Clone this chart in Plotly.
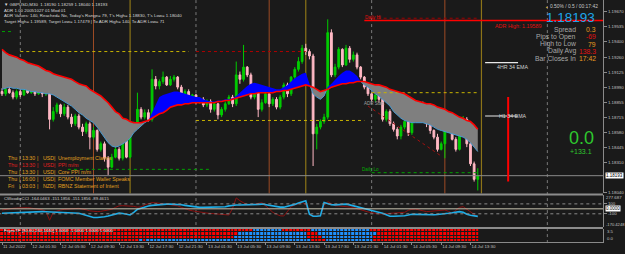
import plotly.graph_objects as go

W, H = 625, 254
BG = '#1a1a1a'
FONT = 'Liberation Sans, Arial, sans-serif'
GREEN = '#00cc00'
PINK = '#ffb8c4'
GOLD = '#e0a020'
RED = '#e02020'

# ---------------- data ----------------
open_ = [1.1895, 1.1893, 1.1897, 1.1894, 1.1890, 1.1895, 1.1892, 1.1897, 1.1894, 1.1898,
         1.1893, 1.1896, 1.1893, 1.1895, 1.1870, 1.1877, 1.1883, 1.1875, 1.1881, 1.1872,
         1.1866, 1.1873, 1.1863, 1.1859, 1.1866, 1.1854, 1.1860, 1.1843, 1.1848, 1.1835,
         1.1827, 1.1836, 1.1843, 1.1835, 1.1857, 1.1836, 1.1861, 1.1866, 1.1879, 1.1872,
         1.1876, 1.1870, 1.1906, 1.1900, 1.1904, 1.1908, 1.1901, 1.1906, 1.1908, 1.1899,
         1.1891, 1.1895, 1.1888, 1.1892, 1.1886, 1.1888, 1.1883, 1.1886, 1.1879, 1.1884,
         1.1874, 1.1879, 1.1884, 1.1890, 1.1884, 1.1910, 1.1906, 1.1917, 1.1910, 1.1890,
         1.1897, 1.1879, 1.1885, 1.1893, 1.1884, 1.1888, 1.1881, 1.1890, 1.1901, 1.1893,
         1.1908, 1.1915, 1.1922, 1.1934, 1.1931, 1.1927, 1.1857, 1.1863, 1.1868, 1.1872,
         1.1948, 1.1910, 1.1917, 1.1933, 1.1919, 1.1934, 1.1924, 1.1928, 1.1917, 1.1908,
         1.1899, 1.1893, 1.1888, 1.1892, 1.1888, 1.1870, 1.1877, 1.1866, 1.1861, 1.1855,
         1.1863, 1.1868, 1.1858, 1.1870, 1.1881, 1.1884, 1.1872, 1.1866, 1.1860, 1.1854,
         1.1843, 1.1848, 1.1861, 1.1872, 1.1852, 1.1843, 1.1857, 1.1870, 1.1848, 1.1830,
         1.1816]
high_ = [1.1898, 1.1899, 1.1899, 1.1896, 1.1897, 1.1897, 1.1900, 1.1899, 1.1901, 1.1900,
         1.1899, 1.1898, 1.1898, 1.1897, 1.1881, 1.1885, 1.1884, 1.1884, 1.1883, 1.1875,
         1.1875, 1.1875, 1.1866, 1.1868, 1.1868, 1.1863, 1.1861, 1.1850, 1.1850, 1.1837,
         1.1839, 1.1846, 1.1845, 1.1859, 1.1861, 1.1863, 1.1868, 1.1894, 1.1881, 1.1879,
         1.1879, 1.1915, 1.1909, 1.1906, 1.1913, 1.1909, 1.1909, 1.1910, 1.1909, 1.1901,
         1.1897, 1.1897, 1.1893, 1.1893, 1.1890, 1.1890, 1.1888, 1.1888, 1.1885, 1.1885,
         1.1881, 1.1886, 1.1892, 1.1892, 1.1922, 1.1913, 1.1937, 1.1918, 1.1912, 1.1899,
         1.1899, 1.1888, 1.1894, 1.1894, 1.1890, 1.1890, 1.1892, 1.1903, 1.1903, 1.1909,
         1.1917, 1.1926, 1.1937, 1.1938, 1.1933, 1.1929, 1.1866, 1.1870, 1.1875, 1.1960,
         1.1951, 1.1920, 1.1935, 1.1934, 1.1937, 1.1936, 1.1931, 1.1930, 1.1918, 1.1909,
         1.1901, 1.1894, 1.1893, 1.1893, 1.1890, 1.1879, 1.1879, 1.1868, 1.1863, 1.1865,
         1.1870, 1.1870, 1.1872, 1.1883, 1.1886, 1.1886, 1.1874, 1.1868, 1.1861, 1.1857,
         1.1850, 1.1863, 1.1874, 1.1874, 1.1854, 1.1859, 1.1873, 1.1872, 1.1850, 1.1832,
         1.1826]
low_ = [1.1891, 1.1891, 1.1893, 1.1888, 1.1888, 1.1890, 1.1891, 1.1893, 1.1893, 1.1891,
        1.1892, 1.1890, 1.1891, 1.1861, 1.1868, 1.1875, 1.1872, 1.1873, 1.1870, 1.1863,
        1.1864, 1.1861, 1.1855, 1.1857, 1.1843, 1.1852, 1.1841, 1.1841, 1.1832, 1.1820,
        1.1826, 1.1835, 1.1833, 1.1833, 1.1835, 1.1835, 1.1860, 1.1864, 1.1870, 1.1870,
        1.1868, 1.1868, 1.1897, 1.1897, 1.1902, 1.1900, 1.1900, 1.1904, 1.1897, 1.1888,
        1.1889, 1.1886, 1.1886, 1.1884, 1.1884, 1.1881, 1.1881, 1.1876, 1.1877, 1.1870,
        1.1872, 1.1877, 1.1883, 1.1881, 1.1882, 1.1902, 1.1904, 1.1908, 1.1888, 1.1888,
        1.1872, 1.1877, 1.1884, 1.1881, 1.1882, 1.1879, 1.1879, 1.1888, 1.1890, 1.1891,
        1.1906, 1.1913, 1.1920, 1.1928, 1.1924, 1.1828, 1.1843, 1.1861, 1.1866, 1.1870,
        1.1908, 1.1908, 1.1915, 1.1917, 1.1918, 1.1921, 1.1922, 1.1915, 1.1906, 1.1897,
        1.1891, 1.1886, 1.1886, 1.1885, 1.1868, 1.1868, 1.1864, 1.1859, 1.1852, 1.1852,
        1.1861, 1.1855, 1.1856, 1.1868, 1.1879, 1.1870, 1.1863, 1.1857, 1.1852, 1.1841,
        1.1842, 1.1835, 1.1860, 1.1851, 1.1841, 1.1842, 1.1855, 1.1845, 1.1828, 1.1814,
        1.1806]
close_ = [1.1893, 1.1897, 1.1894, 1.1890, 1.1895, 1.1892, 1.1897, 1.1894, 1.1898, 1.1893,
          1.1896, 1.1893, 1.1895, 1.1870, 1.1877, 1.1883, 1.1875, 1.1881, 1.1872, 1.1866,
          1.1873, 1.1863, 1.1859, 1.1866, 1.1854, 1.1860, 1.1843, 1.1848, 1.1835, 1.1827,
          1.1836, 1.1843, 1.1835, 1.1857, 1.1836, 1.1861, 1.1866, 1.1879, 1.1872, 1.1876,
          1.1870, 1.1906, 1.1900, 1.1904, 1.1908, 1.1901, 1.1906, 1.1908, 1.1899, 1.1891,
          1.1895, 1.1888, 1.1892, 1.1886, 1.1888, 1.1883, 1.1886, 1.1879, 1.1884, 1.1874,
          1.1879, 1.1884, 1.1890, 1.1884, 1.1910, 1.1906, 1.1917, 1.1910, 1.1890, 1.1897,
          1.1879, 1.1885, 1.1893, 1.1884, 1.1888, 1.1881, 1.1890, 1.1901, 1.1893, 1.1908,
          1.1915, 1.1922, 1.1934, 1.1931, 1.1927, 1.1857, 1.1863, 1.1868, 1.1872, 1.1948,
          1.1910, 1.1917, 1.1933, 1.1919, 1.1934, 1.1924, 1.1928, 1.1917, 1.1908, 1.1899,
          1.1893, 1.1888, 1.1892, 1.1888, 1.1870, 1.1877, 1.1866, 1.1861, 1.1855, 1.1863,
          1.1868, 1.1858, 1.1870, 1.1881, 1.1884, 1.1872, 1.1866, 1.1860, 1.1854, 1.1843,
          1.1848, 1.1861, 1.1872, 1.1852, 1.1843, 1.1857, 1.1870, 1.1848, 1.1830, 1.1816,
          1.1819]
bars = list(range(len(close_)))

# slow (red) and fast (cloud edge) averages
slow_ma = [1.1933, 1.1930, 1.1928, 1.1927, 1.1926, 1.1924, 1.1923, 1.1921, 1.1920, 1.1919,
           1.1918, 1.1916, 1.1914, 1.1913, 1.1911, 1.1910, 1.1909, 1.1908, 1.1907, 1.1906,
           1.1904, 1.1902, 1.1901, 1.1900, 1.1897, 1.1895, 1.1893, 1.1891, 1.1888, 1.1885,
           1.1881, 1.1877, 1.1875, 1.1871, 1.1870, 1.1868, 1.1867, 1.1867, 1.1867, 1.1868,
           1.1869, 1.1871, 1.1873, 1.1875, 1.1876, 1.1878, 1.1881, 1.1882, 1.1883, 1.1883,
           1.1884, 1.1884, 1.1885, 1.1885, 1.1885, 1.1885, 1.1885, 1.1885, 1.1885, 1.1886,
           1.1886, 1.1887, 1.1887, 1.1888, 1.1889, 1.1890, 1.1891, 1.1892, 1.1893, 1.1893,
           1.1894, 1.1894, 1.1894, 1.1894, 1.1894, 1.1895, 1.1895, 1.1896, 1.1896, 1.1897,
           1.1898, 1.1899, 1.1900, 1.1901, 1.1900, 1.1899, 1.1897, 1.1895, 1.1896, 1.1897,
           1.1899, 1.1900, 1.1901, 1.1902, 1.1902, 1.1903, 1.1903, 1.1904, 1.1904, 1.1904,
           1.1903, 1.1902, 1.1901, 1.1901, 1.1900, 1.1899, 1.1897, 1.1896, 1.1895, 1.1894,
           1.1893, 1.1891, 1.1889, 1.1887, 1.1886, 1.1885, 1.1884, 1.1884, 1.1883, 1.1881,
           1.1880, 1.1879, 1.1877, 1.1876, 1.1874, 1.1872, 1.1871, 1.1869, 1.1868, 1.1865,
           1.1861]
fast_ma = [1.1897, 1.1898, 1.1899, 1.1898, 1.1898, 1.1897, 1.1897, 1.1896, 1.1895, 1.1895,
           1.1894, 1.1894, 1.1893, 1.1893, 1.1892, 1.1890, 1.1888, 1.1886, 1.1884, 1.1882,
           1.1879, 1.1876, 1.1874, 1.1871, 1.1869, 1.1867, 1.1863, 1.1858, 1.1853, 1.1849,
           1.1846, 1.1845, 1.1846, 1.1848, 1.1850, 1.1853, 1.1858, 1.1861, 1.1864, 1.1867,
           1.1869, 1.1876, 1.1883, 1.1890, 1.1892, 1.1893, 1.1894, 1.1895, 1.1895, 1.1894,
           1.1893, 1.1892, 1.1891, 1.1890, 1.1890, 1.1888, 1.1887, 1.1886, 1.1886, 1.1887,
           1.1887, 1.1888, 1.1888, 1.1889, 1.1891, 1.1894, 1.1897, 1.1900, 1.1902, 1.1903,
           1.1902, 1.1901, 1.1900, 1.1899, 1.1898, 1.1897, 1.1897, 1.1899, 1.1901, 1.1904,
           1.1907, 1.1909, 1.1911, 1.1912, 1.1902, 1.1893, 1.1890, 1.1888, 1.1891, 1.1899,
           1.1902, 1.1906, 1.1909, 1.1912, 1.1914, 1.1914, 1.1912, 1.1909, 1.1904, 1.1901,
           1.1899, 1.1896, 1.1893, 1.1891, 1.1888, 1.1885, 1.1882, 1.1877, 1.1874, 1.1871,
           1.1869, 1.1868, 1.1867, 1.1867, 1.1867, 1.1867, 1.1866, 1.1865, 1.1863, 1.1861,
           1.1860, 1.1859, 1.1858, 1.1857, 1.1856, 1.1855, 1.1854, 1.1852, 1.1849, 1.1845,
           1.1841]

# CCI panel
cci_main = [-90, -86, -82, -78, -76, -74, -70, -66, -64, -60,
            -58, -56, -58, -62, -64, -66, -68, -70, -72, -76,
            -82, -90, -110, -130, -160, -176, -176, -174, -160, -146,
            -130, -102, -86, -94, -110, -124, -70, -10, 14, 38,
            58, 70, 78, 86, 96, 96, 96, 96, 94, 82,
            70, 58, 46, 36, 30, 30, 30, 30, 30, 34,
            38, 42, 60, 74, 76, 76, 76, 76, 80, 84,
            90, 96, 84, 66, 54, 44, 34, 34, 50, 70,
            90, 120, 142, 162, -110, -150, -150, -140, 130, 110,
            84, 80, 86, 90, 94, 80, 64, 44, 24, 6,
            -14, -34, -50, -64, -90, -120, -150, -150, -150, -150,
            -140, -126, -110, -112, -116, -120, -124, -122, -118, -114,
            -110, -100, -90, -80, -70, -56, -70, -110, -130, -146,
            -151.19]
cci_turbo = [-24, -10, 0, 10, 14, 18, 22, 24, 14, 6,
             -2, -20, -50, -230, -70, -40, -24, -10, 0, 4,
             6, 10, 0, -20, -40, -50, -56, -50, -36, -26,
             -10, 30, 60, 64, 64, 64, 50, 34, 40, 80,
             110, 126, 122, 110, 96, 86, 76, 70, 60, 30,
             0, -22, -40, -56, -70, -74, -86, -94, -104, -110,
             -116, -120, -124, 10, 220, 164, 120, 80, 80, 90,
             110, 126, 60, -20, -70, -110, -140, -144, -50, 40,
             80, 110, 128, 90, -100, -140, -150, -140, 70, 144,
             110, 60, 58, 50, 40, 34, 30, 4, -20, -42,
             -62, -76, -90, -102, -102, -98, -94, -90, -86, -84,
             -70, -30, -10, -6, -26, -50, -56, -50, -40, -30,
             -26, -24, -50, -90, -30, 30, 44, -10, -56, -100,
             -164.05]

# multi-timeframe heat rows (top to bottom): bullish bar ranges
heat_blue_ranges = [
    [(69, 76), (85, 100)],
    [(65, 83), (87, 102)],
    [(64, 83), (88, 101)],
    [(38, 38), (40, 84), (89, 101)],
]

# axis labels
price_ticks = [1.19670, 1.19535, 1.19400, 1.19260, 1.19125, 1.18990, 1.18855,
               1.18715, 1.18580, 1.18445, 1.18310, 1.18040]
x_tick_bars = [0, 8, 16, 24, 32, 40, 48, 56, 64, 72, 80, 88, 96, 104, 112, 120, 128]
x_tick_labels = ['11 Jul 2022', '12 Jul 01:30', '12 Jul 05:30', '12 Jul 09:30', '12 Jul 13:30',
                 '12 Jul 17:30', '12 Jul 21:30', '13 Jul 01:30', '13 Jul 05:30', '13 Jul 09:30',
                 '13 Jul 13:30', '13 Jul 17:30', '13 Jul 21:30', '14 Jul 01:30', '14 Jul 05:30',
                 '14 Jul 09:30', '14 Jul 13:30']
day_separator_bars = [5, 53, 101, 149]
session_open_bars = [25, 73, 121]
session_close_bars = [35, 83, 131]

# dotted daily levels: (start bar, end bar, price, colour)
levels = [(0, 3, 1.1949, '#00a000'), (5, 51, 1.1931, '#c8b400'), (18, 57, 1.1825, '#00a000'),
          (53, 83, 1.1931, '#b00000'), (53, 99, 1.1869, '#c8b400'),
          (101, 130, 1.1894, '#c8b400'), (101, 130, 1.1822, '#00a000'), (101, 130, 1.1961, '#a00000')]
adr_high = 1.19589
adr_high_start = 99
adr_start_bars = [100, 120]
adr_start_prices = [1.1882, 1.1837]
ema4h_price, ema1h_price = 1.1921, 1.1873
ema_label_bars = [132, 141]
range_bar_x = 138.3
range_bar_prices = [1.1890, 1.1814]
bid = 1.18193

header_lines = ['\u25bc GBPUSD,M30  1.18190 1.18259 1.18040 1.18193',
                'ADR 1.00 20051027 01 Mod 01',
                "ADR Values: 140, Reached= No, Today's Range= 79, T's High= 1.18830, T's Low= 1.18040",
                'Target High= 1.19589, Target Low= 1.17479 | To ADR High= 140, To ADR Low= 71']
events = [('Thu', '13:30', 'USD', 'Unemployment Claims'),
          ('Thu', '13:30', 'USD', 'PPI m/m'),
          ('Thu', '13:30', 'USD', 'Core PPI m/m'),
          ('Thu', '16:00', 'USD', 'FOMC Member Waller Speaks'),
          ('Fri', '03:03', 'NZD', 'RBNZ Statement of Intent')]
event_colors = [GOLD, RED, GOLD, GOLD, GOLD]
info_labels = ['Spread', 'Pips to Open', 'High to Low', 'Daily Avg', 'Bar Closes In']
info_values = ['0.3', '-69', '79', '138.3', '17:42']
info_colors = ['#e89a20', '#e01010', '#e89a20', '#e01010', '#e89a20']

# ---------------- figure ----------------
def py(y):
    return 1 - y / H

fig = go.Figure()
N = len(bars)

# cloud between fast and slow averages
polys = []
cx, cf, cs = [bars[0]], [fast_ma[0]], [slow_ma[0]]
up = fast_ma[0] > slow_ma[0]
for k in range(1, N):
    d0 = fast_ma[k - 1] - slow_ma[k - 1]
    d1 = fast_ma[k] - slow_ma[k]
    nu = d1 > 0
    if nu != up:
        t = d0 / (d0 - d1) if d0 != d1 else 0.0
        xc = bars[k - 1] + t * (bars[k] - bars[k - 1])
        yc = slow_ma[k - 1] + t * (slow_ma[k] - slow_ma[k - 1])
        cx.append(xc); cf.append(yc); cs.append(yc)
        polys.append((cx, cf, cs, up))
        cx, cf, cs = [xc], [yc], [yc]
        up = nu
    cx.append(bars[k]); cf.append(fast_ma[k]); cs.append(slow_ma[k])
polys.append((cx, cf, cs, up))

for px_, pf, ps, isup in polys:
    fig.add_trace(go.Scatter(x=px_ + px_[::-1], y=pf + ps[::-1], fill='toself',
                             fillcolor='#0000ff' if isup else '#7f7f7f',
                             line=dict(width=0), mode='lines', hoverinfo='skip'))
    if not isup:
        fig.add_trace(go.Scatter(x=px_, y=pf, mode='lines',
                                 line=dict(color='#4a9ad0', width=1), hoverinfo='skip'))

# dotted levels
for s, e, p, c in levels:
    fig.add_trace(go.Scatter(x=[s, e], y=[p, p], mode='lines',
                             line=dict(color=c, width=1, dash='dot'), hoverinfo='skip'))
fig.add_trace(go.Scatter(x=adr_start_bars, y=adr_start_prices, mode='lines',
                         line=dict(color='#a01010', width=1, dash='dot'), hoverinfo='skip'))

# bid line & ADR high
fig.add_trace(go.Scatter(x=[-1, 165], y=[bid, bid], mode='lines',
                         line=dict(color='#8a8a8a', width=1), hoverinfo='skip'))
fig.add_trace(go.Scatter(x=[adr_high_start, 165], y=[adr_high, adr_high], mode='lines',
                         line=dict(color='#ff0000', width=1.5), hoverinfo='skip'))

# candles
fig.add_trace(go.Candlestick(x=bars, open=open_, high=high_, low=low_, close=close_,
                             increasing=dict(line=dict(color=GREEN, width=1), fillcolor=GREEN),
                             decreasing=dict(line=dict(color=PINK, width=1), fillcolor=PINK),
                             whiskerwidth=0, hoverinfo='skip'))

# slow average line
fig.add_trace(go.Scatter(x=bars, y=slow_ma, mode='lines', line=dict(color='#ff0000', width=1.6),
                         hoverinfo='skip'))

# EMA markers and range bar
for p in (ema4h_price, ema1h_price):
    fig.add_trace(go.Scatter(x=ema_label_bars, y=[p, p], mode='lines',
                             line=dict(color='#e8e8e8', width=1.2), hoverinfo='skip'))
fig.add_trace(go.Scatter(x=[range_bar_x, range_bar_x], y=range_bar_prices, mode='lines',
                         line=dict(color='#ff0000', width=2), hoverinfo='skip'))

# CCI
fig.add_trace(go.Scatter(x=bars, y=cci_turbo, mode='lines', line=dict(color='#8b1010', width=1),
                         yaxis='y2', hoverinfo='skip'))
fig.add_trace(go.Scatter(x=bars, y=cci_main, mode='lines', line=dict(color='#1eaee8', width=1.6),
                         yaxis='y2', hoverinfo='skip'))
for lv, dash, col in ((100, 'dot', '#8a8a8a'), (-100, 'dot', '#8a8a8a'), (0, 'solid', '#c8c4b0')):
    fig.add_trace(go.Scatter(x=[-1, 165], y=[lv, lv], mode='lines', yaxis='y2',
                             line=dict(color=col, width=1, dash=dash), hoverinfo='skip'))

# heat rows (bottom first for the y axis)
z = []
for ranges in heat_blue_ranges[::-1]:
    row = [0] * N
    for a, b in ranges:
        for k in range(a, b + 1):
            row[k] = 1
    z.append(row)
fig.add_trace(go.Heatmap(z=z, x=bars, y=[0, 1, 2, 3], zmin=0, zmax=1, showscale=False,
                         colorscale=[[0, '#ff0000'], [0.5, '#ff0000'], [0.5, '#1e90ff'], [1, '#1e90ff']],
                         xgap=1, ygap=1, yaxis='y3', hoverinfo='skip'))

# vertical lines
shapes = []
for b in day_separator_bars:
    shapes.append(dict(type='line', xref='x', yref='paper', x0=b, x1=b, y0=py(245), y1=1,
                       line=dict(color='#7a7a7a', width=1, dash='dot'), layer='below'))
for b in session_open_bars:
    shapes.append(dict(type='line', xref='x', yref='paper', x0=b, x1=b, y0=py(195), y1=1,
                       line=dict(color='#9c4a24', width=1), layer='below'))
for b in session_close_bars:
    shapes.append(dict(type='line', xref='x', yref='paper', x0=b, x1=b, y0=py(195), y1=1,
                       line=dict(color='#8c7418', width=1.2), layer='below'))
for yy in (196, 229.8):
    shapes.append(dict(type='line', xref='paper', yref='paper', x0=0, x1=603 / W, y0=py(yy), y1=py(yy),
                       line=dict(color='#8c8c8c', width=2)))

ann = []
def label(text, x, y, size, color, xanchor='left', yanchor='middle', xref='paper', yref='paper',
          family=FONT, bg=None):
    if xref == 'paper':
        x = x / W
    if yref == 'paper':
        y = 1 - y / H
    d = dict(text=text, x=x, y=y, xref=xref, yref=yref, showarrow=False, xanchor=xanchor,
             yanchor=yanchor, font=dict(size=size, color=color, family=family), borderpad=0)
    if bg:
        d['bgcolor'] = bg
    ann.append(d)

# header
for i, t in enumerate(header_lines):
    label(t, 3, 5 + i * 5.5, 4.4, '#d8d8d8')
# events
cols = [7, 17.5, 21, 36, 42, 53, 57]
for r, (ev, c) in enumerate(zip(events, event_colors)):
    yy = 159 + r * 7.1
    parts = [ev[0], '|', ev[1], '|', ev[2], '|', ev[3]]
    for xx, ptxt in zip(cols, parts):
        label(ptxt, xx, yy, 5.3, c)

# right info panel
label('\u25aa', 545, 7, 5, '#e0b020')
label('0.50% / 0.5 / 00:17:42', 549, 7, 4.9, '#c8c8c8')
label('1.18193', 545, 17.8, 13.5, '#1ea6ea')
for i, (l, v, c) in enumerate(zip(info_labels, info_values, info_colors)):
    yy = 30 + i * 7.2
    label(l, 577, yy, 6.8, '#a8a8a8', xanchor='right')
    label(v, 597, yy, 6.8, c, xanchor='right')
label('0.0', 581, 139.5, 18, '#2ec82e', xanchor='center')
label('+133.1', 581, 152.7, 7, '#2ec82e', xanchor='center')

# chart labels in data coordinates
label('ADR High: 1.19589', 134.5, adr_high - 0.0001, 5.4, '#e01010', yanchor='top', xref='x', yref='y')
label('Daily Hi', 99, adr_high, 4.6, '#e01010', yanchor='bottom', xref='x', yref='y')
label('Daily Lo', 98, 1.1822, 4.6, '#00b000', yanchor='bottom', xref='x', yref='y')
label('ADR Start', 98.5, 1.1884, 4.5, '#a0a0a0', xref='x', yref='y')
label('4HR 34 EMA', 135, ema4h_price - 0.0004, 5.3, '#d0d0d0', xref='x', yref='y')
label('H1 34 EMA', 135.5, ema1h_price, 5.3, '#d0d0d0', xref='x', yref='y')

# axis value boxes and sub-panel labels
label('1.18193', 605, bid, 4.5, '#000000', yref='y', bg='#ffffff')
label('0.0000', 605, 0, 4.5, '#000000', yref='y2', bg='#ffffff')
label('277.687', 605, 199.5, 4.3, '#c0c0c0')
label('-170.4248', 604.5, 226, 4.1, '#c0c0c0')
label('3.5', 606, 233, 4.3, '#c0c0c0')
label('0.0', 606, 240.7, 4.3, '#c0c0c0')
label('CWoodieCCI -164.0463 -151.1856 -151.1856 -89.4615', 3, 200.5, 4.3, '#d0d0d0')
label('FsyncTF [30,60,240,1440] 1.0000 -1.0000 1.0000 1.0000', 3, 232, 4.3, '#ffffff')

axis_font = dict(size=4.4, color='#c0c0c0', family=FONT)
fig.update_layout(
    width=W, height=H, margin=dict(l=0, r=0, t=0, b=0),
    paper_bgcolor=BG, plot_bgcolor=BG, showlegend=False,
    shapes=shapes, annotations=ann,
    xaxis=dict(domain=[0, 603 / W], range=[-0.546, 164.21], anchor='y3',
               tickvals=x_tick_bars, ticktext=x_tick_labels, ticklabelposition='outside right',
               tickangle=0, ticks='outside', ticklen=2, tickcolor='#8a8a8a',
               showline=True, linecolor='#8a8a8a',
               showgrid=False, zeroline=False, tickfont=axis_font,
               rangeslider=dict(visible=False)),
    yaxis=dict(domain=[py(195), 1], range=[1.18033, 1.19774], side='right', anchor='x',
               tickvals=price_ticks, ticktext=['%.5f' % v for v in price_ticks],
               ticks='outside', ticklen=3, tickcolor='#8a8a8a', showline=True, linecolor='#8a8a8a',
               showgrid=False, zeroline=False, tickfont=axis_font),
    yaxis2=dict(domain=[py(229), py(197)], range=[-370, 270], side='right', anchor='x',
                tickvals=[100, -100], ticktext=['100', '-100'],
                ticks='outside', ticklen=3, tickcolor='#8a8a8a', showline=True, linecolor='#8a8a8a',
                showgrid=False, zeroline=False, tickfont=axis_font),
    yaxis3=dict(domain=[py(244), py(230.8)], range=[-0.5, 3.5], side='right', anchor='x',
                showticklabels=False, ticks='', showline=True, linecolor='#8a8a8a',
                showgrid=False, zeroline=False),
)

fig.write_html('out.html')
